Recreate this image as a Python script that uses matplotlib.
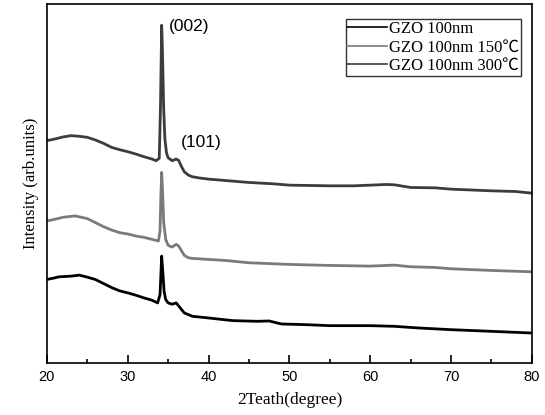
import matplotlib
matplotlib.use("Agg")
import matplotlib.pyplot as plt
from matplotlib.ticker import MultipleLocator, NullLocator

# XRD patterns (intensity in arb. units)
x_300 = [20, 21, 22, 23, 24, 25, 26, 27, 28, 29, 30, 31, 32, 33, 33.5, 33.9, 34.05,
         34.2, 34.3, 34.45, 34.6, 34.8, 35, 35.5, 36, 36.3, 36.6, 37, 37.5, 38, 39, 40,
         42, 45, 48, 50, 55, 58, 60, 62, 63, 65, 68, 70, 72, 75, 78, 80]
y_300 = [665, 670, 676, 680, 678, 675, 667, 657, 645, 638, 632, 625, 617, 610, 605, 612, 760,
         1010, 930, 760, 670, 628, 614, 605, 610, 606, 590, 572, 562, 557, 553, 550,
         546, 540, 536, 532, 530, 530, 532, 534, 533, 525, 524, 520, 518, 515, 513, 508]

x_150 = [20, 21, 22, 23.5, 25, 26, 27, 28, 29, 30, 31, 32, 33, 33.8, 34.0, 34.1,
         34.2, 34.3, 34.45, 34.7, 35, 35.5, 36, 36.3, 36.6, 37, 37.5, 38, 40,
         42, 45, 48, 50, 55, 60, 63, 65, 68, 70, 75, 80]
y_150 = [425, 430, 436, 440, 432, 420, 408, 398, 390, 386, 380, 376, 370, 365, 395, 500,
         570, 520, 420, 370, 352, 347, 355, 350, 338, 322, 315, 313, 310,
         307, 300, 297, 295, 292, 290, 293, 288, 286, 282, 277, 273]

x_100 = [20, 21, 21.5, 23, 24, 25, 26, 27, 28, 29, 30, 31, 32, 33, 33.7, 34.0,
         34.2, 34.35, 34.5, 34.7, 35, 35.5, 36, 36.5, 37, 38, 40, 43, 46, 47.5, 49,
         52, 55, 60, 63, 66, 70, 75, 80]
y_100 = [250, 255, 258, 260, 263, 257, 250, 238, 226, 216, 210, 203, 195, 188, 180, 205,
         320, 270, 215, 190, 180, 176, 180, 165, 150, 140, 135, 127, 125, 126, 117,
         115, 112, 112, 110, 105, 100, 95, 90]

labels = ["GZO 100nm", "GZO 100nm 150\u2103", "GZO 100nm 300\u2103"]
colors = ["#000000", "#7a7a7a", "#3c3c3c"]

fig = plt.figure(figsize=(5.45, 4.15), dpi=100)
ax = fig.add_axes([0.086, 0.125, 0.890, 0.865])

ax.plot(x_100, y_100, color=colors[0], lw=2.0, label=labels[0])
ax.plot(x_150, y_150, color=colors[1], lw=2.0, label=labels[1])
ax.plot(x_300, y_300, color=colors[2], lw=2.0, label=labels[2])

ax.set_xlim(20, 80)
ax.set_ylim(0, 1073)
ax.xaxis.set_major_locator(MultipleLocator(10))
ax.xaxis.set_minor_locator(MultipleLocator(5))
ax.yaxis.set_major_locator(NullLocator())
ax.tick_params(axis="x", which="major", direction="in", length=5.5, width=1.2,
               labelsize=10.5, pad=5)
ax.tick_params(axis="x", which="minor", direction="in", length=3, width=1.2)
for lab in ax.get_xticklabels():
    lab.set_family("Liberation Sans")
for s in ax.spines.values():
    s.set_linewidth(1.2)

ax.set_xlabel("2Teath(degree)", family="Liberation Serif", fontsize=12.5, labelpad=6)
ax.set_ylabel("Intensity (arb.units)", family="Liberation Serif", fontsize=12, labelpad=6)

ax.text(35.1, 1005, "(002)", family="Liberation Sans", fontsize=12.5, va="center")
ax.text(36.6, 660, "(101)", family="Liberation Sans", fontsize=12.5, va="center")

leg = ax.legend(loc="upper right", bbox_to_anchor=(0.977, 0.958), fancybox=False,
                framealpha=1, edgecolor="#333333", borderpad=0.1, borderaxespad=0,
                handlelength=2.4, handletextpad=0.1, labelspacing=0.15,
                prop={"family": ["Liberation Serif", "Noto Sans CJK SC"], "size": 12})
leg.get_frame().set_linewidth(1.0)
for ln in leg.get_lines():
    ln.set_linewidth(1.2)

fig.savefig("out.png", dpi=100)
